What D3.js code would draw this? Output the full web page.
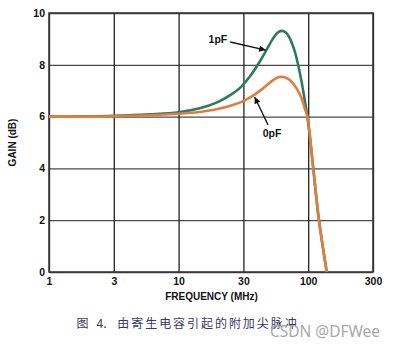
<!DOCTYPE html>
<html>
<head>
<meta charset="utf-8">
<script src="https://cdn.jsdelivr.net/npm/d3@7"></script>
<style>
  html, body { margin: 0; padding: 0; background: #ffffff; }
  svg { display: block; }
  .tick text { font-family: "Liberation Sans", Arial, sans-serif; font-weight: bold; font-size: 10.5px; fill: #111; }
</style>
</head>
<body>
<svg id="chart" width="394" height="347"></svg>
<script>
// Frequency tick values (MHz) and gain ticks (dB)
const freqTicks = [1, 3, 10, 30, 100, 300];
const gainTicks = [0, 2, 4, 6, 8, 10];

// Gain response with 1 pF parasitic capacitance
const freq1pF = [1, 2, 3, 5.85, 10, 14.3, 19, 25.1, 28.2, 33.7, 40.6, 46, 52.1, 56, 60.9, 66, 71.1, 78, 83, 88.4, 94, 98.5, 109, 120, 137];
const gain1pF = [6.0, 6.01, 6.03, 6.09, 6.17, 6.32, 6.54, 6.9, 7.1, 7.54, 8.12, 8.57, 9.02, 9.22, 9.31, 9.25, 9.02, 8.51, 7.99, 7.35, 6.6, 6.0, 4.0, 2.0, 0.0];

// Gain response with 0 pF
const freq0pF = [1, 2, 3, 5.85, 10, 14.3, 19, 25.1, 30, 35.9, 43.2, 52.1, 56, 60.9, 66, 71.1, 80.6, 88.4, 94, 98.5, 109, 120, 137];
const gain0pF = [6.0, 6.0, 6.01, 6.05, 6.11, 6.18, 6.28, 6.45, 6.6, 6.81, 7.09, 7.41, 7.5, 7.54, 7.5, 7.41, 7.09, 6.71, 6.3, 6.0, 4.0, 2.0, 0.0];

// Curve annotations: label, arrow tip (on curve) and arrow tail, in data units
const annoLabels = ["1pF", "0pF"];
const annoTip = [[45.4, 8.57], [37.0, 6.76]];
const annoTail = [[24.0, 8.88], [47.4, 5.68]];

const svg = d3.select("#chart");
const plotL = 49, plotR = 373, plotT = 13, plotB = 272;

// Decade / half-decade ticks are evenly spaced on this axis
const step = (plotR - plotL) / (freqTicks.length - 1);
const x = d3.scaleLog()
  .domain(freqTicks)
  .range(freqTicks.map((d, i) => plotL + i * step));
const y = d3.scaleLinear().domain([0, 10]).range([plotB, plotT]);

// Horizontal grid + y labels
const yAxis = svg.append("g")
  .attr("transform", `translate(${plotL},0)`)
  .call(d3.axisLeft(y).tickValues(gainTicks).tickSize(-(plotR - plotL)).tickPadding(4));
yAxis.select(".domain").remove();
yAxis.selectAll(".tick line").attr("stroke", "#4a4a4a").attr("stroke-width", 1.3);

// Vertical grid + x labels
const xAxis = svg.append("g")
  .attr("transform", `translate(0,${plotB})`)
  .call(d3.axisBottom(x).tickValues(freqTicks).tickFormat(d3.format("d")).tickSize(-(plotB - plotT)).tickPadding(5.5));
xAxis.select(".domain").remove();
xAxis.selectAll(".tick line").attr("stroke", "#222").attr("stroke-width", 1.3);

// Plot frame
svg.append("rect")
  .attr("x", plotL).attr("y", plotT)
  .attr("width", plotR - plotL).attr("height", plotB - plotT)
  .attr("fill", "none").attr("stroke", "#333").attr("stroke-width", 1.5);

// Response curves
const line = d3.line()
  .x(d => x(d[0]))
  .y(d => y(d[1]))
  .curve(d3.curveCatmullRom.alpha(0.5));

svg.append("path")
  .datum(d3.zip(freq1pF, gain1pF))
  .attr("d", line)
  .attr("fill", "none")
  .attr("stroke", "#2f7a5c")
  .attr("stroke-width", 2.6);

svg.append("path")
  .datum(d3.zip(freq0pF, gain0pF))
  .attr("d", line)
  .attr("fill", "none")
  .attr("stroke", "#df7c3e")
  .attr("stroke-width", 2.6);

// Arrowhead marker
svg.append("defs").append("marker")
  .attr("id", "arrow")
  .attr("viewBox", "0 0 10 10")
  .attr("refX", 10).attr("refY", 5)
  .attr("markerWidth", 9).attr("markerHeight", 6.5)
  .attr("markerUnits", "userSpaceOnUse")
  .attr("orient", "auto")
  .append("path")
  .attr("d", "M0,0 L10,5 L0,10 Z")
  .attr("fill", "#111");

annoLabels.forEach((lab, i) => {
  const tx = x(annoTail[i][0]), ty = y(annoTail[i][1]);
  svg.append("line")
    .attr("x1", tx).attr("y1", ty)
    .attr("x2", x(annoTip[i][0])).attr("y2", y(annoTip[i][1]))
    .attr("stroke", "#111").attr("stroke-width", 1.3)
    .attr("marker-end", "url(#arrow)");
  const t = svg.append("text")
    .text(lab)
    .attr("font-family", "Liberation Sans, Arial, sans-serif")
    .attr("font-weight", "bold")
    .attr("font-size", 10.5)
    .attr("fill", "#111");
  if (i === 0) {
    t.attr("x", tx - 3).attr("y", ty + 1).attr("text-anchor", "end");
  } else {
    t.attr("x", tx + 4).attr("y", ty + 12).attr("text-anchor", "middle");
  }
});

// Axis titles
svg.append("text")
  .attr("transform", `translate(15.5,${(plotT + plotB) / 2}) rotate(-90)`)
  .attr("text-anchor", "middle")
  .attr("font-family", "Liberation Sans, Arial, sans-serif")
  .attr("font-weight", "bold")
  .attr("font-size", 10)
  .attr("fill", "#111")
  .text("GAIN (dB)");

svg.append("text")
  .attr("x", 211.5).attr("y", 300)
  .attr("text-anchor", "middle")
  .attr("font-family", "Liberation Sans, Arial, sans-serif")
  .attr("font-weight", "bold")
  .attr("font-size", 10)
  .attr("fill", "#111")
  .text("FREQUENCY (MHz)");

// Figure caption
const cap = svg.append("g")
  .attr("font-family", "Noto Sans CJK SC, sans-serif")
  .attr("font-size", 12)
  .attr("fill", "#363a62");
cap.append("text").attr("x", 76.5).attr("y", 327.5).text("图");
cap.append("text").attr("x", 96.5).attr("y", 327.5).text("4.");
cap.append("text").attr("x", 117.3).attr("y", 327.5)
  .attr("textLength", 179.4).attr("lengthAdjust", "spacing")
  .text("由寄生电容引起的附加尖脉冲");

// Watermark
svg.append("text")
  .attr("x", 270).attr("y", 336.5)
  .attr("font-family", "Noto Sans, sans-serif")
  .attr("font-size", 15.5)
  .attr("fill", "#a8a8a8")
  .attr("textLength", 110).attr("lengthAdjust", "spacingAndGlyphs")
  .text("CSDN @DFWee");
</script>
</body>
</html>
